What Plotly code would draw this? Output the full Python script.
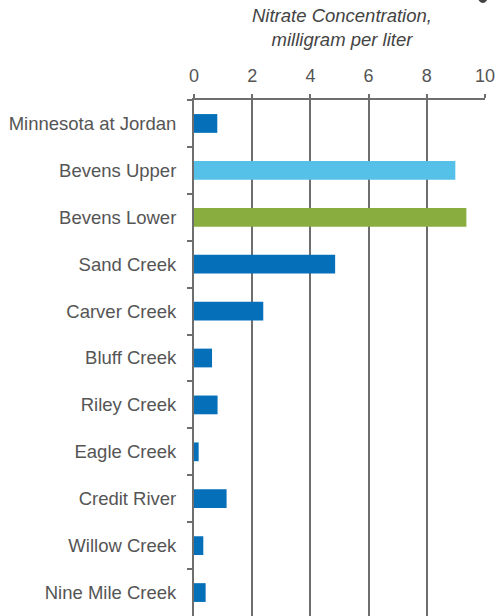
import plotly.graph_objects as go

categories = ["Minnesota at Jordan", "Bevens Upper", "Bevens Lower", "Sand Creek",
              "Carver Creek", "Bluff Creek", "Riley Creek", "Eagle Creek",
              "Credit River", "Willow Creek", "Nine Mile Creek"]
values = [0.80, 8.98, 9.36, 4.85, 2.38, 0.62, 0.81, 0.16, 1.12, 0.32, 0.40]
bar_colors = ["#0570b9", "#56c1e8", "#8aad3f", "#0570b9", "#0570b9", "#0570b9",
              "#0570b9", "#0570b9", "#0570b9", "#0570b9", "#0570b9"]
x_ticks = [0, 2, 4, 6, 8, 10]

fig = go.Figure(go.Bar(
    y=categories, x=values, orientation="h",
    marker=dict(color=bar_colors, line=dict(width=0)),
    width=0.4,
))

grid = "#6e6e6e"
fig.update_layout(
    width=495, height=616,
    margin=dict(l=194, r=10, t=100, b=0),
    paper_bgcolor="white", plot_bgcolor="white",
    showlegend=False,
    font=dict(family="Liberation Sans, Arial, sans-serif", color="#555555", size=18),
    xaxis=dict(
        side="top", range=[0, 10], tickvals=x_ticks,
        showgrid=True, gridcolor=grid, gridwidth=2,
        showline=True, linecolor=grid, linewidth=2,
        ticks="outside", ticklen=4, tickwidth=2, tickcolor=grid,
        ticklabelstandoff=5, ticklabeloverflow="allow",
        tickfont=dict(size=18, color="#555555"),
        zeroline=False, fixedrange=True, automargin=False,
    ),
    yaxis=dict(
        categoryorder="array", categoryarray=categories,
        range=[10.5, -0.5],
        showline=True, linecolor=grid, linewidth=2,
        ticks="outside", ticklen=5, tickwidth=2, tickcolor=grid,
        tickson="boundaries",
        ticklabelstandoff=12,
        tickfont=dict(size=18.5, color="#555555"),
        showgrid=False, zeroline=False, automargin=False,
    ),
    annotations=[dict(
        text="<i>Nitrate Concentration,<br>milligram per liter</i>",
        xref="paper", yref="paper", x=0.51, y=1.0, yshift=100 - 3,
        xanchor="center", yanchor="top", showarrow=False, align="center",
        font=dict(size=18.5, color="#444444"),
    )],
    shapes=[dict(type="circle", xref="paper", yref="paper",
                 x0=0.975, x1=1.01, y0=1.188, y1=1.215,
                 fillcolor="#444444", line=dict(width=0))],
)

fig.write_html("out.html", config={"displayModeBar": False},
               post_script="document.body.style.margin='0';")
